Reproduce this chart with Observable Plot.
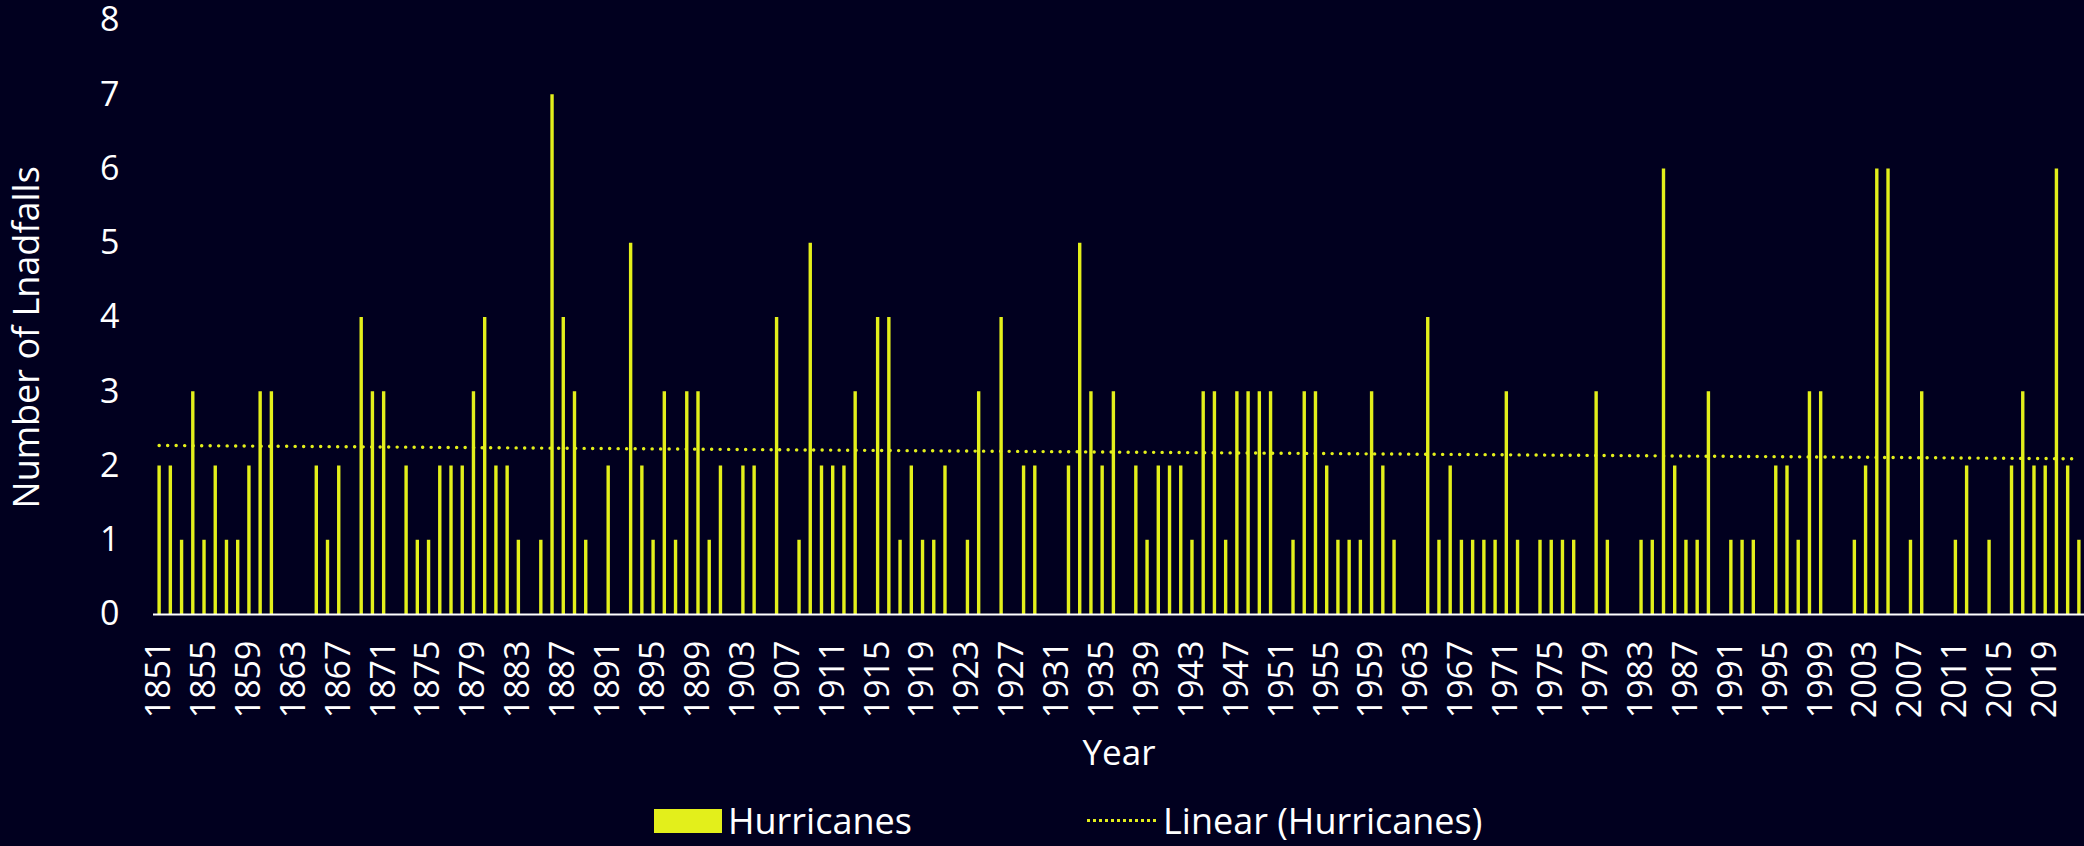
<!DOCTYPE html>
<html><head><meta charset="utf-8">
<script src="https://cdn.jsdelivr.net/npm/d3@7"></script>
<script src="https://cdn.jsdelivr.net/npm/@observablehq/plot@0.6"></script>
<style>
html,body{margin:0;padding:0;background:#01001f;}
body{width:2084px;height:846px;overflow:hidden;font-family:"Open Sans",sans-serif;color:#fff;}
#legend{display:flex;align-items:center;height:51px;font-size:36px;padding-left:654px;}
.item{display:flex;align-items:center;}
.swatch{width:68px;height:24px;background:#e3ef1b;margin-right:6px;}
.dots{width:69px;height:0;border-top:3px dotted #e3ef1b;margin-right:7px;}
#chart svg g[aria-label="x-axis label"] text{font-size:35px;}
#chart svg g[aria-label="y-axis label"] text{font-size:36px;}
</style></head><body>
<div id="chart"></div>
<div id="legend"></div>
<script>
const firstYear = 1851;
// null = no landfall recorded (blank cell)
const hurricanes = [
  2,2,1,3,1,2,1,1,2,3,        // 1851-1860
  3,null,null,null,2,1,2,null,4,3, // 1861-1870
  3,null,2,1,1,2,2,2,3,4,     // 1871-1880
  2,2,1,null,1,7,4,3,1,null,  // 1881-1890
  2,null,5,2,1,3,1,3,3,1,     // 1891-1900
  2,null,2,2,null,4,null,1,5,2, // 1901-1910
  2,2,3,null,4,4,1,2,1,1,     // 1911-1920
  2,null,1,3,null,4,null,2,2,null, // 1921-1930
  null,2,5,3,2,3,null,2,1,2,  // 1931-1940
  2,2,1,3,3,1,3,3,3,3,        // 1941-1950
  null,1,3,3,2,1,1,1,3,2,     // 1951-1960
  1,null,null,4,1,2,1,1,1,1,  // 1961-1970
  3,1,null,1,1,1,1,null,3,1,  // 1971-1980
  null,null,1,1,6,2,1,1,3,null, // 1981-1990
  1,1,1,null,2,2,1,3,3,null,  // 1991-2000
  null,1,2,6,6,null,1,3,null,null, // 2001-2010
  1,2,null,1,null,2,3,2,2,6,  // 2011-2020
  2,1                         // 2021-2022
];
const tickYears = [1851,1855,1859,1863,1867,1871,1875,1879,1883,1887,1891,1895,1899,1903,1907,1911,1915,1919,1923,1927,1931,1935,1939,1943,1947,1951,1955,1959,1963,1967,1971,1975,1979,1983,1987,1991,1995,1999,2003,2007,2011,2015,2019];
const yTicks = [0,1,2,3,4,5,6,7,8];
const seriesName = "Hurricanes";
const trendName = "Linear (Hurricanes)";
const xTitle = "Year";
const yTitle = "Number of Lnadfalls";
const barColor = "#e3ef1b";

const data = hurricanes.map((v, i) => ({year: firstYear + i, count: v}));
const present = data.filter(d => d.count != null);

const chart = Plot.plot({
  width: 2084, height: 795,
  marginLeft: 153, marginRight: 0, marginTop: 20, marginBottom: 181,
  style: {background: "#01001f", color: "#fff", fontFamily: "Open Sans", fontSize: "34px"},
  x: {domain: [firstYear - 0.5, firstYear + hurricanes.length - 0.5], ticks: tickYears, tickFormat: d => String(d),
      tickRotate: -90, tickSize: 0, tickPadding: 26, label: xTitle, labelAnchor: "center", labelOffset: 150, labelArrow: "none"},
  y: {domain: [0, 8], ticks: yTicks, tickSize: 0, tickPadding: 34, label: yTitle, labelAnchor: "center", labelOffset: 140, labelArrow: "none"},
  marks: [
    Plot.ruleX(present, {x: "year", y1: 0, y2: "count", stroke: barColor, strokeWidth: 3.4}),
    Plot.ruleY([0], {stroke: "#fff", strokeWidth: 2}),
    Plot.linearRegressionY(present, {x: "year", y: "count", stroke: barColor, strokeWidth: 3.4,
      strokeDasharray: "0.1 8.4", strokeLinecap: "round", ci: 0})
  ]
});
// nudge the y title slightly below the frame's centre, as in the source chart
d3.select(chart).select('g[aria-label="y-axis label"] text').attr("dx", "-0.55em");
document.getElementById("chart").append(chart);

const legend = document.getElementById("legend");
legend.innerHTML =
  `<div class="item" style="width:433px"><div class="swatch"></div><span>${seriesName}</span></div>` +
  `<div class="item"><div class="dots"></div><span>${trendName}</span></div>`;
</script>
</body></html>
